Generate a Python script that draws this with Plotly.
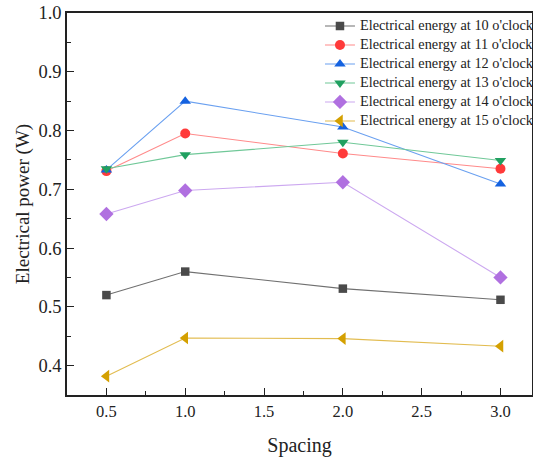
import plotly.graph_objects as go

spacing = [0.5, 1.0, 2.0, 3.0]
e10 = [0.520, 0.560, 0.531, 0.512]
e11 = [0.731, 0.795, 0.761, 0.735]
e12 = [0.733, 0.850, 0.806, 0.709]
e13 = [0.735, 0.759, 0.780, 0.749]
e14 = [0.658, 0.698, 0.712, 0.550]
e15 = [0.382, 0.447, 0.446, 0.433]

names = ["Electrical energy at 10 o'clock", "Electrical energy at 11 o'clock",
         "Electrical energy at 12 o'clock", "Electrical energy at 13 o'clock",
         "Electrical energy at 14 o'clock", "Electrical energy at 15 o'clock"]
series = [e10, e11, e12, e13, e14, e15]
mcolors = ["#4a4a4a", "#ff3a3a", "#1462e0", "#20a060", "#b070e0", "#d4a000"]
lcolors = ["#707070", "#ff8a8a", "#6aa0f0", "#70c898", "#cca8f0", "#e2bc50"]
symbols = ["square", "circle", "triangle-up", "triangle-down", "diamond", "triangle-left"]
sizes = [8.5, 10, 10, 10, 11, 11]

fig = go.Figure()
for n, s, mc, lc, sym, sz in zip(names, series, mcolors, lcolors, symbols, sizes):
    fig.add_trace(go.Scatter(x=spacing, y=s,
                             name='<span style="font-size:14.3px">' + n + '</span>',
                             mode="lines+markers",
                             line=dict(color=lc, width=1.1),
                             marker=dict(color=mc, symbol=sym, size=sz)))

font = "Liberation Serif, Times New Roman, serif"
fig.update_layout(
    width=533, height=457,
    margin=dict(l=67, r=1, t=13, b=62, autoexpand=False),
    paper_bgcolor="white", plot_bgcolor="white",
    font=dict(family=font, color="#222", size=14),
    showlegend=True,
    legend=dict(x=1.015, xanchor="right", y=1.004, yanchor="top",
                bgcolor="rgba(0,0,0,0)", font=dict(family=font, size=11),
                tracegroupgap=0, itemwidth=30),
)
fig.update_xaxes(range=[0.25, 3.2], tick0=0.5, dtick=0.5, tickformat=".1f",
                 showgrid=False, zeroline=False, showline=True, linecolor="#222",
                 linewidth=1.5, mirror=True, ticks="inside", ticklen=7, tickcolor="#222",
                 minor=dict(ticks="inside", ticklen=4, dtick=0.25, tick0=0.5, tickcolor="#222"),
                 title=dict(text="Spacing", font=dict(size=20, family=font), standoff=18),
                 tickfont=dict(size=16.5, family=font))
fig.update_yaxes(range=[0.35, 1.0], tick0=0.4, dtick=0.1, tickformat=".1f",
                 showgrid=False, zeroline=False, showline=True, linecolor="#222",
                 linewidth=1.5, mirror=True, ticks="inside", ticklen=7, tickcolor="#222",
                 minor=dict(ticks="inside", ticklen=4, dtick=0.05, tick0=0.35, tickcolor="#222"),
                 title=dict(text="Electrical power (W)", font=dict(size=19, family=font), standoff=4),
                 tickfont=dict(size=18.5, family=font))
fig.write_html("out.html")
